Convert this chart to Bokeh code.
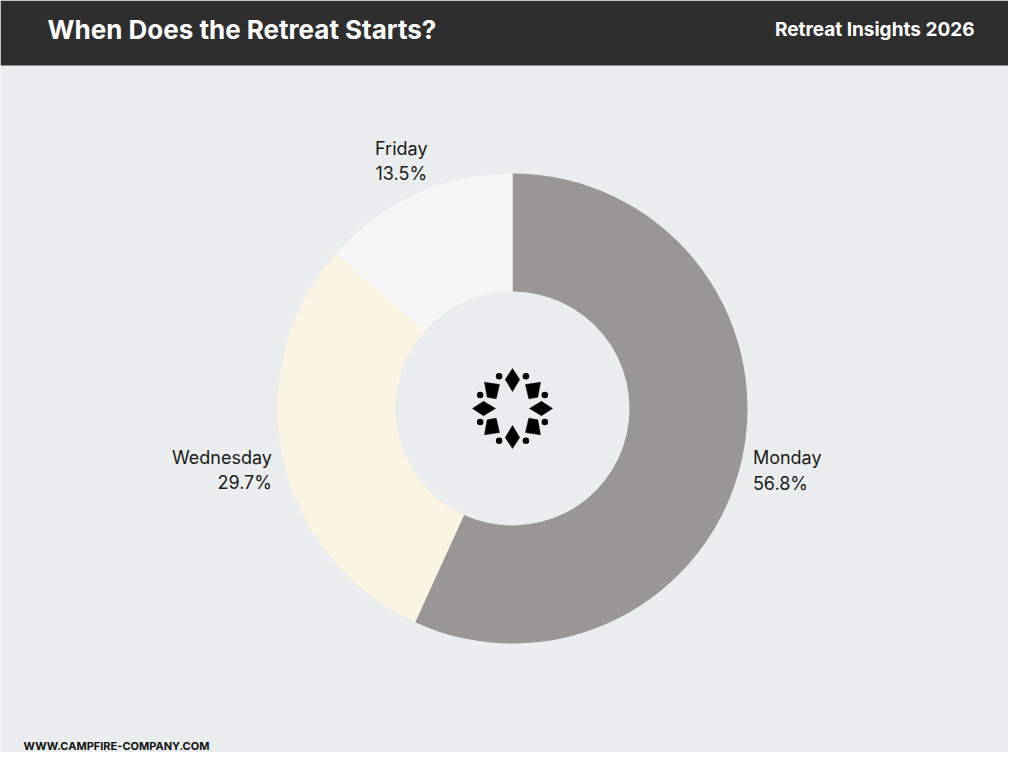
import math
from bokeh.plotting import figure
from bokeh.models import Range1d
from bokeh.core.properties import value
from bokeh.embed import file_html
from bokeh.resources import INLINE

# ---- data ----
days = ["Monday", "Wednesday", "Friday"]
shares = [56.8, 29.7, 13.5]
colors = ["#989795", "#FBF4E3", "#F6F6F6"]
title = "When Does the Retreat Starts?"
subtitle = "Retreat Insights 2026"
footer = "WWW.CAMPFIRE-COMPANY.COM"

W, H = 1024, 768
BG = "#E9EDED"
DARK = "#2E2E2E"

p = figure(width=1008, height=752, output_backend="svg", toolbar_location=None,
           x_range=Range1d(0, 1008), y_range=Range1d(16, 768),
           min_border=0, min_border_left=0, min_border_right=0,
           min_border_top=0, min_border_bottom=0)
p.axis.visible = False
p.grid.visible = False
p.outline_line_color = None
p.background_fill_color = BG
p.border_fill_color = BG

def sy(y):
    return H - y

# header
p.quad(left=[0], right=[W], bottom=[sy(65)], top=[H], fill_color=DARK, line_color=None)
p.text(x=[47], y=[sy(29)], text=[title], text_font=value("Inter"), text_font_style="bold",
       text_font_size="26px", text_color="white", text_baseline="middle", text_align="left")
p.text(x=[974], y=[sy(29)], text=[subtitle], text_font=value("Inter"), text_font_style="bold",
       text_font_size="19px", text_color="white", text_baseline="middle", text_align="right")
p.text(x=[23], y=[sy(745)], text=[footer], text_font=value("Inter"), text_font_style="bold",
       text_font_size="11px", text_color="#111111", text_baseline="middle", text_align="left")

# donut
cx, cy = 512, sy(408)
r_in, r_out = 117, 235
total = sum(shares)
starts, ends, mids = [], [], []
cum = 0.0
for s in shares:
    a0 = math.pi / 2 - cum / total * 2 * math.pi
    cum += s
    a1 = math.pi / 2 - cum / total * 2 * math.pi
    starts.append(a0)
    ends.append(a1)
    mids.append((a0 + a1) / 2)

p.annular_wedge(x=[cx] * 3, y=[cy] * 3, inner_radius=r_in, outer_radius=r_out,
                start_angle=starts, end_angle=ends, direction="clock",
                fill_color=colors, line_color=None)

# labels
r_lab = 246
for d, s, m in zip(days, shares, mids):
    lx = cx + r_lab * math.cos(m)
    ly = cy + r_lab * math.sin(m)
    c = math.cos(m)
    if abs(c) > 0.5:
        align = "left" if c > 0 else "right"
        base = "middle"
        ly -= 10
    else:
        align = "center"
        base = "bottom"
        lx -= 10
    p.text(x=[lx], y=[ly], text=[f"{d}\n{s}%"], text_font=value("Inter"),
           text_font_size="18px", text_color="#1a1a1a", text_align=align,
           text_baseline=base, text_line_height=1.22)

# logo (decorative)
def kite(theta, pts):
    xs, ys = [], []
    ux, uy = math.cos(theta), math.sin(theta)
    vx, vy = -uy, ux
    for u, v in pts:
        xs.append(cx + u * ux + v * vx)
        ys.append(cy + u * uy + v * vy)
    return xs, ys

lx_all, ly_all = [], []
for k in range(4):
    th = math.pi / 2 - k * math.pi / 2
    xs, ys = kite(th, [(17, 0), (29, 7.2), (40, 0), (29, -7.2)])
    lx_all.append(xs)
    ly_all.append(ys)
quad = [(13, 24), (28, 26.3), (25.3, 11.3), (16.3, 9.7)]
for sx_, sy_ in [(1, 1), (-1, 1), (1, -1), (-1, -1)]:
    lx_all.append([cx + sx_ * a for a, b in quad])
    ly_all.append([cy + sy_ * b for a, b in quad])
p.patches(xs=lx_all, ys=ly_all, fill_color="black", line_color="black", line_width=0.5)

dx, dy = [], []
for k in range(8):
    th = math.radians(22.5 + 45 * k)
    dx.append(cx + 35 * math.cos(th))
    dy.append(cy + 35 * math.sin(th))
p.scatter(x=dx, y=dy, size=6.5, fill_color="black", line_color=None)

open("out.html", "w").write(file_html(p, INLINE))
